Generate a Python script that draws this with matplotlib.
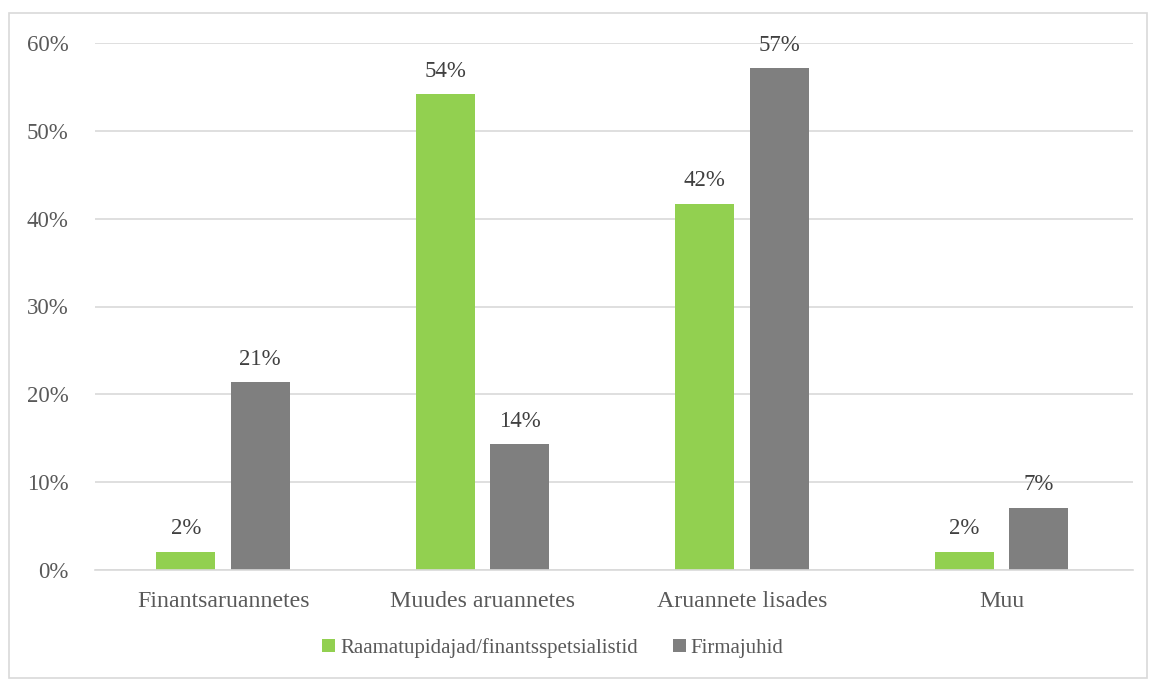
import matplotlib
matplotlib.use("Agg")
import matplotlib.pyplot as plt
from matplotlib.patches import Rectangle
import numpy as np

# data
categories = ["Finantsaruannetes", "Muudes aruannetes", "Aruannete lisades", "Muu"]
raamatupidajad = [2.1, 54.2, 41.7, 2.1]
firmajuhid = [21.4, 14.3, 57.1, 7.1]
series_names = ["Raamatupidajad/finantsspetsialistid", "Firmajuhid"]
green = "#92D050"
grey = "#7F7F7F"

plt.rcParams["font.family"] = ["Liberation Serif", "DejaVu Serif"]

fig = plt.figure(figsize=(11.5, 6.8), dpi=100)
ax = fig.add_axes([95 / 1150, 1 - 570 / 680, (1133 - 95) / 1150, (570 - 43) / 680])

# chart border
fig.patches.append(Rectangle((9 / 1150, 2 / 680), 1138 / 1150, 665 / 680,
                             transform=fig.transFigure, fill=False,
                             edgecolor="#D9D9D9", linewidth=1.2))

x = np.arange(len(categories)) - 0.007
w = 0.227
gap = 0.06
off = (w + gap) / 2
b1 = ax.bar(x - off, raamatupidajad, w, color=green, label=series_names[0])
b2 = ax.bar(x + off, firmajuhid, w, color=grey, label=series_names[1])

for bars, vals in [(b1, raamatupidajad), (b2, firmajuhid)]:
    for rect, v in zip(bars, vals):
        ax.text(rect.get_x() + rect.get_width() / 2, v + 1.4, f"{round(v)}%",
                ha="center", va="bottom", fontsize=16.5, color="#404040")

ax.set_xlim(-0.5, 3.5)
ax.set_ylim(0, 60)
ax.set_yticks(range(0, 61, 10))
ax.set_yticklabels([f"{t}%" for t in range(0, 61, 10)])
ax.set_xticks(np.arange(len(categories)) - 0.005)
ax.set_xticklabels(categories)
ax.grid(axis="y", color="#D9D9D9", linewidth=1.2)
ax.set_axisbelow(True)
for s in ["top", "right", "left"]:
    ax.spines[s].set_visible(False)
ax.spines["bottom"].set_color("#D9D9D9")
ax.spines["bottom"].set_linewidth(1.2)
ax.tick_params(length=0, labelsize=16.5, colors="#595959")
ax.tick_params(axis="x", labelsize=17.2, pad=15)
ax.tick_params(axis="y", pad=19)

fig.legend(loc="center", bbox_to_anchor=(553 / 1150, 1 - 648 / 680), ncol=2,
           frameon=False, fontsize=15, labelcolor="#595959",
           handlelength=0.6, handleheight=0.6, handletextpad=0.25, columnspacing=1.7)

plt.savefig("out.png")
plt.close()
